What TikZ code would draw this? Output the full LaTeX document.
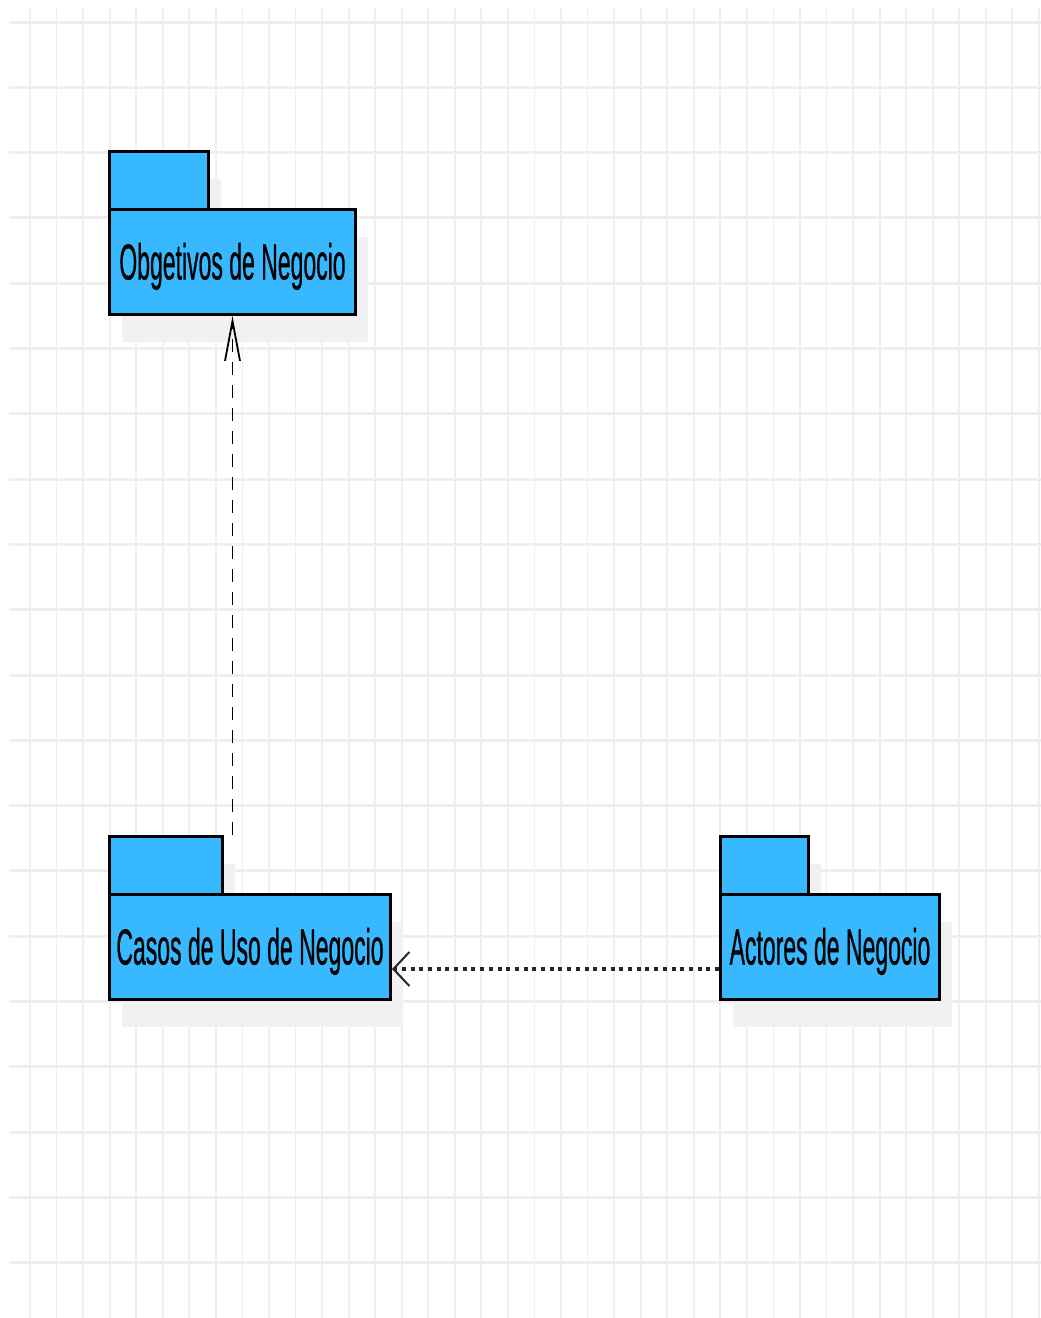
\documentclass[tikz,border=0pt]{standalone}
\usepackage{fontspec}
\setmainfont{Liberation Sans}
\newfontfamily\pkgfont[FakeBold=0.9]{Liberation Sans}
\usetikzlibrary{arrows.meta,shadows}
\definecolor{pkgblue}{RGB}{56,185,255}
\definecolor{gridline}{RGB}{239,239,239}
\definecolor{shadowgray}{RGB}{241,241,241}
% tall, narrow package labels
\newcommand{\pkglabel}[1]{\scalebox{1}[2.2]{\pkgfont\fontsize{23}{28}\selectfont #1}}

\begin{document}
\begin{tikzpicture}[x=1pt,y=-1pt,
  gridv/.style={draw=gridline,line width=1.8pt},
  gridh/.style={draw=gridline,line width=3pt},
  pkgshadow/.style={drop shadow={shadow xshift=12pt,shadow yshift=-27pt,fill=shadowgray,opacity=1}},
  pkgtab/.style={draw=black,line width=3pt,fill=pkgblue,pkgshadow,
    minimum height=58pt,inner sep=0pt,anchor=north west},
  pkgbody/.style={draw=black,line width=3pt,fill=pkgblue,pkgshadow,
    minimum height=105pt,inner sep=0pt,anchor=north west,
    text height=45pt,text depth=10pt},
  depline/.style={draw=black,line width=1.8pt,dash pattern=on 13pt off 10pt,
    -{Straight Barb[length=40pt,width=15pt,line width=1.8pt]}},
  useline/.style={draw=black!85,line width=3.3pt,dash pattern=on 4pt off 4.7pt,
    -{Straight Barb[length=16pt,width=34pt,line width=2pt]}}]

\useasboundingbox[fill=white] (0,0) rectangle (1041,1318);

% background grid
\foreach \i in {0,...,38}
  \draw[gridv] ({30+26.55*\i},8) -- ({30+26.55*\i},1318);
\foreach \j in {0,...,19}
  \draw[gridh] (9,{22+65.3*\j}) -- (1041,{22+65.3*\j});

% packages: tab first, then body
\node[pkgtab,minimum width=99pt]  (objtab) at (108,150) {};
\node[pkgbody,minimum width=246pt] (obj) at (108,208) {\pkglabel{Obgetivos de Negocio}};

\node[pkgtab,minimum width=113pt]  (casostab) at (108,835) {};
\node[pkgbody,minimum width=281pt] (casos) at (108,893) {\pkglabel{Casos de Uso de Negocio}};

\node[pkgtab,minimum width=88pt]   (acttab) at (719,835) {};
\node[pkgbody,minimum width=219pt] (act) at (719,893) {\pkglabel{Actores de Negocio}};

% dependencies
\draw[depline] (casostab.north -| obj.south) -- (obj.south);
\draw[useline] ([yshift=-22pt]act.west) -- ([yshift=-22pt]casos.east);

\end{tikzpicture}
\end{document}
